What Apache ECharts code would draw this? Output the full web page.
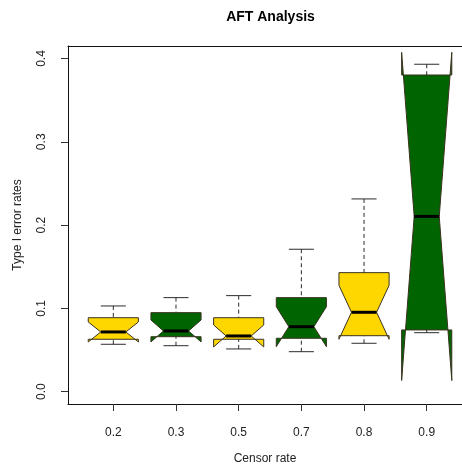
<!DOCTYPE html>
<html>
<head>
<meta charset="utf-8">
<script src="https://cdn.jsdelivr.net/npm/echarts@6/dist/echarts.min.js"></script>
<style>
  html, body { margin: 0; padding: 0; background: #fff; }
  #chart { width: 462px; height: 472px; }
</style>
</head>
<body>
<div id="chart"></div>
<script>
// Censoring rates on the x axis
const categories = ['0.2', '0.3', '0.5', '0.7', '0.8', '0.9'];

// Five-number summaries of the Type I error rates
const whiskerLow  = [0.0569, 0.0552, 0.0513, 0.0480, 0.0581, 0.0708];
const hingeLow    = [0.0629, 0.0660, 0.0629, 0.0641, 0.0672, 0.0741];
const medians     = [0.0717, 0.0729, 0.0669, 0.0780, 0.0953, 0.2104];
const hingeHigh   = [0.0888, 0.0949, 0.0888, 0.1129, 0.1429, 0.3802];
const whiskerHigh = [0.1029, 0.1129, 0.1153, 0.1710, 0.2314, 0.3931];

// Notch extents (confidence interval of the median)
const notchLow  = [0.0597, 0.0597, 0.0537, 0.0540, 0.0629, 0.0134];
const notchHigh = [0.0837, 0.0861, 0.0801, 0.1020, 0.1277, 0.4074];

// Y axis tick values
const yTicks = [0, 0.1, 0.2, 0.3, 0.4];

const boxFills = ['#FFD700', '#006400'];
const FONT = 'Liberation Sans, Arial, sans-serif';

const boxData = categories.map((c, i) => [
  i + 1, whiskerLow[i], hingeLow[i], medians[i], hingeHigh[i], whiskerHigh[i],
  notchLow[i], notchHigh[i], i % 2
]);

function renderBox(params, api) {
  const xv = api.value(0);
  const lo = api.value(1), q1 = api.value(2), med = api.value(3);
  const q3 = api.value(4), hi = api.value(5);
  const cLo = api.value(6), cHi = api.value(7);
  const fill = boxFills[api.value(8)];
  const cx = api.coord([xv, med])[0];
  const Y = v => api.coord([xv, v])[1];
  const w = api.size([0.4, 0])[0];     // half box width
  const nf = 0.5;                       // notch fraction
  const sw = 0.5 * w;                   // staple half width

  const pts = [
    [cx - w, Y(q1)], [cx + w, Y(q1)], [cx + w, Y(cLo)], [cx + nf * w, Y(med)],
    [cx + w, Y(cHi)], [cx + w, Y(q3)], [cx - w, Y(q3)], [cx - w, Y(cHi)],
    [cx - nf * w, Y(med)], [cx - w, Y(cLo)]
  ];
  const lineCol = '#2b2b2b';
  return {
    type: 'group',
    children: [
      { type: 'polygon', shape: { points: pts },
        style: { fill: fill, stroke: '#3a3320', lineWidth: 1 } },
      { type: 'line', shape: { x1: cx, y1: Y(lo), x2: cx, y2: Y(q1) },
        style: { stroke: lineCol, lineWidth: 1, lineDash: [4, 3] } },
      { type: 'line', shape: { x1: cx, y1: Y(hi), x2: cx, y2: Y(q3) },
        style: { stroke: lineCol, lineWidth: 1, lineDash: [4, 3] } },
      { type: 'line', shape: { x1: cx - sw, y1: Y(lo), x2: cx + sw, y2: Y(lo) },
        style: { stroke: lineCol, lineWidth: 1 } },
      { type: 'line', shape: { x1: cx - sw, y1: Y(hi), x2: cx + sw, y2: Y(hi) },
        style: { stroke: lineCol, lineWidth: 1 } },
      { type: 'line', shape: { x1: cx - nf * w, y1: Y(med), x2: cx + nf * w, y2: Y(med) },
        style: { stroke: '#000', lineWidth: 3 } }
    ]
  };
}

const tickPositions = categories.map((c, i) => i + 1);
const frameLine = { show: true, onZero: false, lineStyle: { color: '#111', width: 1 } };

const chart = echarts.init(document.getElementById('chart'), null, { renderer: 'canvas' });
chart.setOption({
  backgroundColor: '#fff',
  animation: false,
  title: {
    text: 'AFT Analysis',
    left: 270.5,
    top: 10,
    padding: 0,
    textAlign: 'center',
    textStyle: { fontFamily: FONT, fontSize: 14, fontWeight: 'bold', color: '#000' }
  },
  // the plotting region runs past the right edge of the canvas
  grid: { left: 68, top: 46, right: 0, height: 358, show: false },
  xAxis: [{
    type: 'value',
    min: 0.277, max: 6.563,
    position: 'bottom',
    name: 'Censor rate',
    nameLocation: 'middle',
    nameGap: 49,
    nameTextStyle: { fontFamily: FONT, fontSize: 12, color: '#222' },
    axisLine: frameLine,
    axisTick: { show: true, length: 7, customValues: tickPositions,
                lineStyle: { color: '#333' } },
    axisLabel: {
      customValues: tickPositions,
      formatter: v => categories[Math.round(v) - 1],
      margin: 23, fontFamily: FONT, fontSize: 12, color: '#222'
    },
    splitLine: { show: false }
  }, {
    type: 'value',
    min: 0.277, max: 6.563,
    position: 'top',
    axisLine: frameLine,
    axisTick: { show: false },
    axisLabel: { show: false },
    splitLine: { show: false }
  }],
  yAxis: {
    type: 'value',
    min: -0.0148, max: 0.415,
    position: 'left',
    name: 'Type I error rates',
    nameLocation: 'middle',
    nameRotate: 90,
    nameGap: 44,
    nameTextStyle: { fontFamily: FONT, fontSize: 12, color: '#222' },
    axisLine: frameLine,
    axisTick: { show: true, length: 7, customValues: yTicks, lineStyle: { color: '#333' } },
    axisLabel: {
      customValues: yTicks,
      rotate: 90,
      formatter: v => v.toFixed(1),
      margin: 20, fontFamily: FONT, fontSize: 12, color: '#222'
    },
    splitLine: { show: false }
  },
  series: [{
    type: 'custom',
    renderItem: renderBox,
    data: boxData,
    encode: { x: 0, y: [1, 5] },
    clip: false,
    z: 3
  }]
});
</script>
</body>
</html>
